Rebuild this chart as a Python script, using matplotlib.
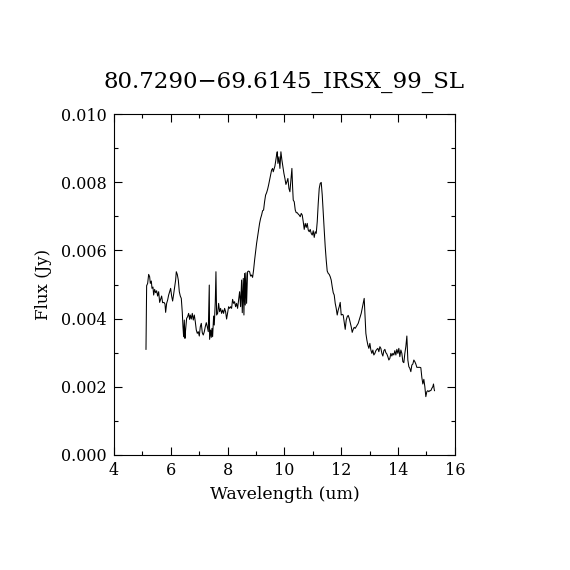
import matplotlib
matplotlib.use("Agg")
import matplotlib.pyplot as plt
from matplotlib.ticker import MultipleLocator

# spectrum (wavelength in um, flux in mJy)
wavelength = [
    5.126, 5.149, 5.185, 5.220, 5.255, 5.278, 5.314, 5.337, 5.372, 5.396,
    5.431, 5.466, 5.501, 5.536, 5.572, 5.607, 5.642, 5.677, 5.712, 5.759,
    5.795, 5.818, 5.853, 5.888, 5.924, 5.959, 5.994, 6.029, 6.064, 6.099,
    6.135, 6.170, 6.193, 6.228, 6.264, 6.299, 6.334, 6.369, 6.404, 6.428,
    6.451, 6.475, 6.498, 6.522, 6.557, 6.592, 6.627, 6.662, 6.686, 6.721,
    6.756, 6.791, 6.827, 6.862, 6.897, 6.932, 6.967, 7.003, 7.038, 7.073,
    7.108, 7.143, 7.179, 7.214, 7.249, 7.284, 7.319, 7.354, 7.366, 7.401,
    7.425, 7.448, 7.472, 7.507, 7.530, 7.566, 7.589, 7.613, 7.648, 7.683,
    7.718, 7.753, 7.788, 7.824, 7.859, 7.894, 7.929, 7.964, 8.000, 8.035,
    8.070, 8.105, 8.140, 8.175, 8.211, 8.246, 8.281, 8.316, 8.351, 8.387,
    8.422, 8.457, 8.492, 8.516, 8.551, 8.574, 8.598, 8.621, 8.645, 8.668,
    8.703, 8.738, 8.774, 8.809, 8.844, 8.879, 8.914, 8.950, 8.985, 9.020,
    9.055, 9.090, 9.125, 9.161, 9.196, 9.231, 9.266, 9.301, 9.337, 9.372,
    9.407, 9.442, 9.477, 9.513, 9.548, 9.583, 9.606, 9.630, 9.665, 9.700,
    9.724, 9.747, 9.771, 9.806, 9.841, 9.876, 9.911, 9.947, 9.982, 10.017,
    10.052, 10.087, 10.122, 10.158,
    10.193, 10.228, 10.263, 10.287, 10.310, 10.345, 10.381, 10.416, 10.451, 10.486,
    10.521, 10.556, 10.592, 10.627, 10.662, 10.697, 10.732, 10.768, 10.803, 10.838,
    10.873, 10.908, 10.943, 10.979, 11.014, 11.049, 11.084, 11.119, 11.155, 11.190,
    11.225, 11.260, 11.295, 11.331, 11.366, 11.401, 11.436, 11.471, 11.506, 11.542,
    11.577, 11.612, 11.647, 11.682, 11.718, 11.753, 11.788, 11.823, 11.858, 11.893,
    11.929, 11.964, 11.999, 12.034, 12.069, 12.105, 12.140, 12.175, 12.210, 12.245,
    12.281, 12.316, 12.351, 12.386, 12.421, 12.456, 12.492, 12.527, 12.562, 12.597,
    12.632, 12.668, 12.703, 12.738, 12.773, 12.808, 12.832, 12.867, 12.902, 12.937,
    12.973, 13.008, 13.043, 13.078, 13.113, 13.148, 13.184, 13.219, 13.254, 13.289,
    13.324, 13.360, 13.395, 13.430, 13.465, 13.500, 13.536, 13.571, 13.606, 13.641,
    13.676, 13.712, 13.747, 13.782, 13.817, 13.852, 13.887, 13.923, 13.958, 13.993,
    14.028, 14.063, 14.099, 14.134, 14.169, 14.204, 14.239, 14.274, 14.310, 14.345,
    14.380, 14.415, 14.450, 14.486, 14.521, 14.556, 14.591, 14.626, 14.662, 14.697,
    14.732, 14.767, 14.802, 14.837, 14.873, 14.908, 14.943, 14.978, 15.013, 15.049,
    15.084, 15.119, 15.154, 15.189, 15.225, 15.248, 15.272, 15.283,
]

flux_mjy = [
    3.099, 4.966, 5.034, 5.298, 5.230, 5.034, 5.103, 4.888, 4.927, 4.692,
    4.858, 4.761, 4.819, 4.663, 4.790, 4.477, 4.565, 4.663, 4.467, 4.477,
    4.428, 4.184, 4.448, 4.545, 4.692, 4.790, 4.888, 4.663, 4.516, 4.712,
    4.936, 5.132, 5.376, 5.298, 5.132, 4.790, 4.663, 4.594, 4.184, 3.763,
    3.470, 3.959, 3.421, 3.685, 4.008, 4.057, 4.154, 3.978, 4.106, 3.988,
    4.154, 3.959, 4.106, 3.910, 3.666, 3.568, 3.617, 3.490, 3.763, 3.861,
    3.587, 3.519, 3.617, 3.763, 3.881, 3.763, 3.617, 4.985, 3.392, 3.666,
    3.451, 3.715, 3.470, 4.076, 3.812, 4.497, 5.376, 4.106, 4.154, 4.448,
    4.203, 4.301, 4.154, 4.252, 4.154, 4.301, 4.203, 3.988, 4.174, 4.350,
    4.301, 4.350, 4.301, 4.565, 4.448, 4.497, 4.350, 4.448, 4.301, 4.545,
    4.790, 4.350, 5.132, 4.174, 5.181, 4.106, 5.327, 4.399, 5.347, 4.448,
    5.376, 5.396, 5.376, 5.249, 5.279, 5.210, 5.425, 5.718, 5.963, 6.207,
    6.403, 6.598, 6.794, 6.940, 7.038, 7.165, 7.185, 7.429, 7.625, 7.693,
    7.791, 7.918, 8.065, 8.211, 8.358, 8.407, 8.309, 8.377, 8.475, 8.671,
    8.798, 8.895, 8.553, 8.749, 8.407, 8.895, 8.651, 8.456, 8.260, 8.113,
    7.937, 8.016, 8.113, 7.820,
    7.722, 8.065, 8.407, 7.869, 7.478, 7.429, 7.185, 7.107, 7.107, 7.067,
    7.038, 6.989, 7.087, 7.038, 6.843, 6.618, 6.794, 6.676, 6.794, 6.598,
    6.549, 6.618, 6.500, 6.452, 6.579, 6.383, 6.549, 6.500, 6.843, 7.380,
    7.820, 7.967, 7.996, 7.625, 7.087, 6.598, 6.109, 5.718, 5.396, 5.327,
    5.298, 5.230, 5.132, 4.936, 4.761, 4.692, 4.448, 4.301, 4.106, 4.252,
    4.350, 4.477, 4.106, 4.125, 4.106, 3.881, 3.685, 3.959, 4.057, 4.096,
    4.008, 3.881, 3.763, 3.597, 3.685, 3.744, 3.715, 3.763, 3.812, 3.861,
    3.959, 4.057, 4.154, 4.301, 4.448, 4.594, 4.154, 3.568, 3.372, 3.226,
    3.128, 3.275, 3.079, 2.981, 3.079, 2.933, 2.981, 3.060, 3.099, 3.128,
    3.030, 3.177, 3.128, 2.981, 2.903, 3.060, 3.099, 3.001, 2.962, 2.884,
    2.786, 2.835, 2.981, 2.903, 2.981, 2.933, 3.060, 2.933, 3.099, 2.981,
    3.128, 2.884, 3.079, 2.981, 2.737, 2.708, 2.981, 3.177, 3.490, 2.786,
    2.590, 2.542, 2.444, 2.639, 2.669, 2.786, 2.737, 2.669, 2.571, 2.571,
    2.571, 2.571, 2.561, 2.278, 2.082, 2.219, 2.004, 1.711, 1.857, 1.887,
    1.857, 1.887, 1.887, 1.955, 2.004, 2.082, 1.926, 1.887,
]

flux = [f / 1000.0 for f in flux_mjy]

title = "80.7290\u221269.6145_IRSX_99_SL"

plt.rcParams['font.family'] = ['DejaVu Serif']

fig = plt.figure(figsize=(5.7, 5.7), dpi=100)
ax = fig.add_axes([0.2, 0.2018, 0.598, 0.598])

ax.plot(wavelength, flux, color='black', lw=0.75)

ax.set_xlim(4, 16)
ax.set_ylim(0, 0.010)
ax.xaxis.set_major_locator(MultipleLocator(2))
ax.xaxis.set_minor_locator(MultipleLocator(1))
ax.yaxis.set_major_locator(MultipleLocator(0.002))
ax.yaxis.set_minor_locator(MultipleLocator(0.001))
ax.yaxis.set_major_formatter(plt.FormatStrFormatter('%.3f'))

ax.tick_params(which='both', direction='in', top=True, right=True,
               width=0.8, labelsize=11.5, pad=5)
ax.tick_params(which='major', length=6)
ax.tick_params(which='minor', length=3)
for s in ax.spines.values():
    s.set_linewidth(0.8)

ax.set_xlabel("Wavelength (um)", fontsize=12.5, labelpad=5)
ax.set_ylabel("Flux (Jy)", fontsize=12, labelpad=7)
ax.set_title(title, fontsize=16.5, pad=19)

fig.savefig("out.png", dpi=100, facecolor='white')
